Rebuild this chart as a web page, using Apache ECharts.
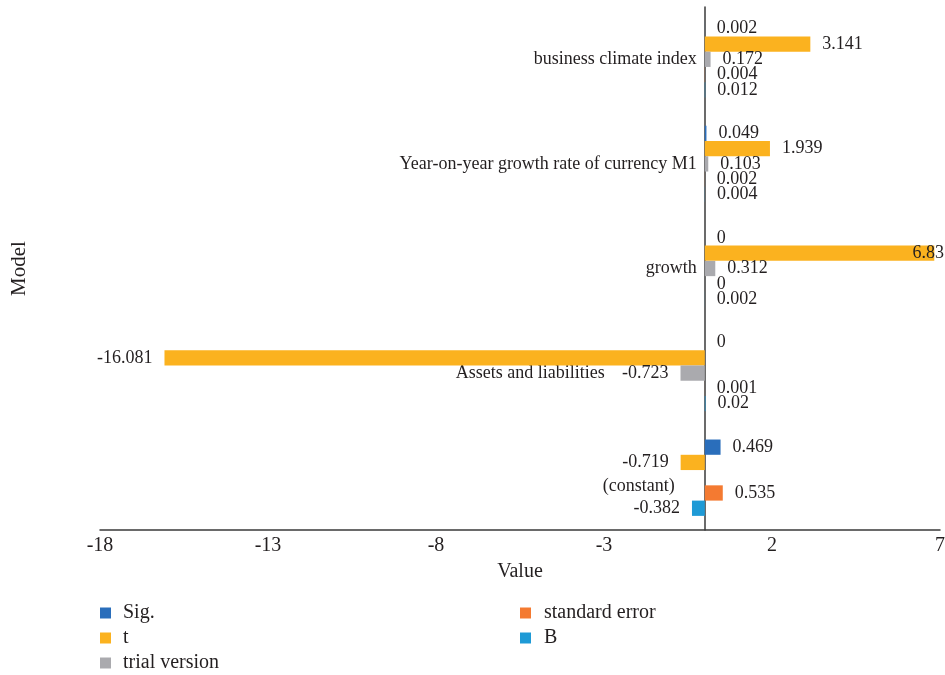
<!DOCTYPE html>
<html>
<head>
<meta charset="utf-8">
<script src="https://cdn.jsdelivr.net/npm/echarts@6/dist/echarts.min.js"></script>
<style>
  html, body { margin: 0; padding: 0; background: #fff; }
  #chart { width: 945px; height: 675px; }
</style>
</head>
<body>
<div id="chart"></div>
<script>
// categories, bottom to top
const categories = [
  "(constant)",
  "Assets and liabilities",
  "growth",
  "Year-on-year growth rate of currency M1",
  "business climate index",
];
const sigValues = [0.469, 0, 0, 0.049, 0.002];
const tValues = [-0.719, -16.081, 6.83, 1.939, 3.141];
const trialValues = [null, -0.723, 0.312, 0.103, 0.172];
const stdErrValues = [0.535, 0.001, 0, 0.002, 0.004];
const bValues = [-0.382, 0.02, 0.002, 0.004, 0.012];
const xTicks = [-18, -13, -8, -3, 2, 7];

const font = "'Liberation Serif', 'DejaVu Serif', serif";
const ink = "#231f20";
const xMin = -18, xMax = 7;
const gridLeft = 100, gridRight = 5;

let myChart = echarts.init(document.getElementById("chart"));

// keep a label inside the canvas if it would run past the right edge
function clampLabel(params) {
  let r = params.labelRect;
  let maxX = myChart.getWidth() - r.width - 1;
  if (r.x > maxX) {
    return { x: maxX, y: r.y + r.height / 2, align: "left", verticalAlign: "middle" };
  }
  return {};
}

function makeSeries(name, values, color) {
  return {
    name: name,
    type: "bar",
    color: color,
    barGap: "0%",
    barCategoryGap: "27%",
    label: {
      show: true,
      color: ink,
      fontFamily: font,
      fontSize: 18,
      distance: 12,
    },
    labelLayout: clampLabel,
    data: values.map((v) => {
      if (v == null) return "-";
      return { value: v, label: { position: v < 0 ? "left" : "right" } };
    }),
  };
}

// put the category axis (line + labels) on the zero of the value axis
let plotWidth = 945 - gridLeft - gridRight;
let zeroOffset = ((0 - xMin) / (xMax - xMin)) * plotWidth;

// some category labels are nudged so they don't sit on the negative bar labels
let labelStyle = {
  "(constant)": { padding: [0, 22, 0, 0], verticalAlign: "top" },
  "Assets and liabilities": { padding: [0, 92, 0, 0] },
};
let yData = categories.map((c) => {
  if (!labelStyle[c]) return c;
  return { value: c, textStyle: labelStyle[c] };
});

let legendText = { fontFamily: font, fontSize: 20, color: ink };

let option = {
  animation: false,
  textStyle: { fontFamily: font, color: ink },
  grid: {
    left: gridLeft,
    right: gridRight,
    top: 7,
    bottom: 145,
    containLabel: false,
    outerBoundsMode: "none",
  },
  legend: [
    {
      orient: "vertical",
      left: 100,
      top: 603,
      padding: 0,
      itemWidth: 11,
      itemHeight: 11,
      itemGap: 5,
      icon: "rect",
      textStyle: Object.assign({ padding: [0, 0, 0, 7] }, legendText),
      data: ["Sig.", "t", "trial version"],
    },
    {
      orient: "vertical",
      left: 520,
      top: 603,
      padding: 0,
      itemWidth: 11,
      itemHeight: 11,
      itemGap: 5,
      icon: "rect",
      textStyle: Object.assign({ padding: [0, 0, 0, 8] }, legendText),
      data: ["standard error", "B"],
    },
  ],
  xAxis: {
    type: "value",
    min: xMin,
    max: xMax,
    name: "Value",
    nameLocation: "middle",
    nameGap: 32,
    nameTextStyle: { fontFamily: font, fontSize: 20, color: ink },
    axisLine: { show: true, lineStyle: { color: "#3a3a3a", width: 1.5 } },
    axisTick: { show: false },
    splitLine: { show: false },
    axisLabel: {
      customValues: xTicks,
      color: ink,
      fontFamily: font,
      fontSize: 20,
      margin: 6,
    },
  },
  yAxis: {
    type: "category",
    data: yData,
    offset: -zeroOffset,
    name: "Model",
    nameLocation: "middle",
    nameGap: 70 + zeroOffset,
    nameTextStyle: { fontFamily: font, fontSize: 21, color: ink },
    axisLine: { show: true, onZero: false, lineStyle: { color: "#3a3a3a", width: 1.5 } },
    axisTick: { show: false },
    axisLabel: { color: ink, fontFamily: font, fontSize: 18, margin: 8 },
  },
  series: [
    makeSeries("Sig.", sigValues, "#2a6ebb"),
    makeSeries("t", tValues, "#fbb21f"),
    makeSeries("trial version", trialValues, "#aaaaae"),
    makeSeries("standard error", stdErrValues, "#f47a31"),
    makeSeries("B", bValues, "#1e9ad6"),
  ],
};

myChart.setOption(option, true);
window.onresize = myChart.resize;
</script>
</body>
</html>
